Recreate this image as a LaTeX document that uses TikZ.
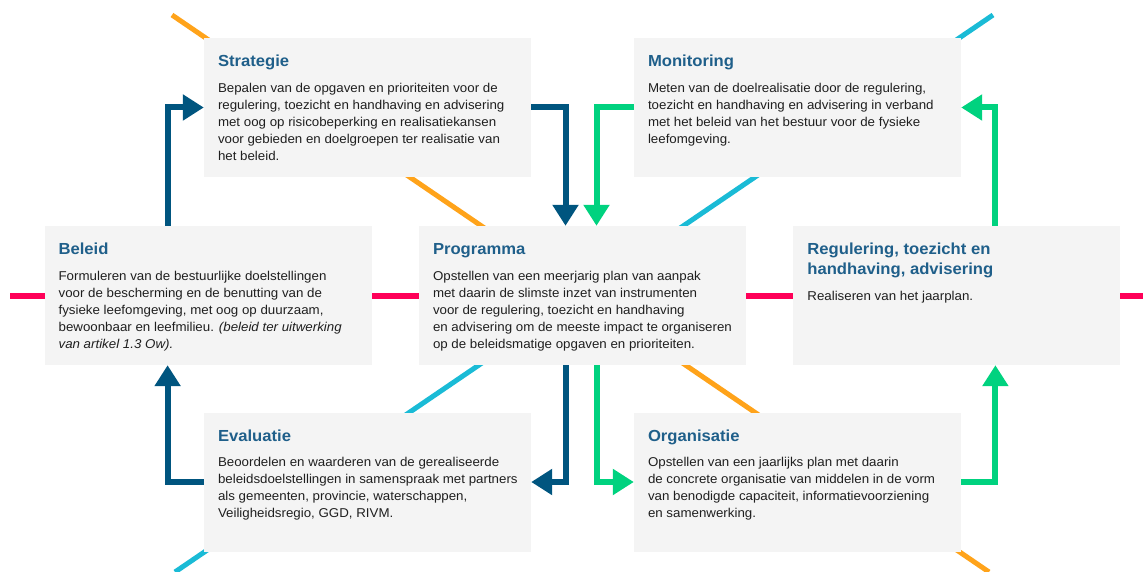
\documentclass[tikz,border=0pt]{standalone}
\usepackage{fontspec}
\setmainfont[FakeStretch=1.04]{Liberation Sans}
\usetikzlibrary{positioning,arrows.meta}
\definecolor{donkerblauw}{HTML}{00557F}
\definecolor{groen}{HTML}{00D27F}
\definecolor{roze}{HTML}{FF0058}
\definecolor{oranje}{HTML}{FFA31A}
\definecolor{cyaan}{HTML}{1ABBD6}
\definecolor{kopblauw}{HTML}{1F5F8A}
\definecolor{vakgrijs}{HTML}{F4F4F4}

\begin{document}
\begin{tikzpicture}[x=1pt,y=-1pt,
    vak/.style={fill=vakgrijs, minimum width=327pt, minimum height=139pt, inner sep=0pt},
    kop/.style={inner sep=0pt, align=left, text=kopblauw, font=\fontsize{16}{20}\selectfont\bfseries},
    tekst/.style={inner sep=0pt, align=left, text=black!88, font=\fontsize{12.8}{17}\selectfont},
    blauwpijl/.style={draw=donkerblauw, line width=6pt, -{Triangle[length=21pt,width=25pt]}},
    groenpijl/.style={draw=groen, line width=6pt, -{Triangle[length=21pt,width=25pt]}}]
    \useasboundingbox (0,0) rectangle (1143,572);

    % lines in the background
    \draw[roze, line width=6pt] (10,295.5) -- (1143,295.5);
    \draw[oranje, line width=5pt] (172,15) -- (989,572);
    \draw[cyaan, line width=5pt] (993,15) -- (175,572);

    % boxes
    \node[vak] (prog) at (582.5,295.5) {};
    \node[vak, left=47pt of prog] (beleid) {};
    \node[vak, right=47pt of prog] (regul) {};
    \node[vak] (strat) at (367.5,107.5) {};
    \node[vak] (monit) at (797.5,107.5) {};
    \node[vak] (evalu) at (367.5,482) {};
    \node[vak] (organ) at (797.5,482) {};

    % blue arrows
    \draw[blauwpijl] ([xshift=-40.5pt]beleid.north) |- (strat.west);
    \draw[blauwpijl] (strat.east) -| ([xshift=-17pt]prog.north);
    \draw[blauwpijl] ([xshift=-17pt]prog.south) |- (evalu.east);
    \draw[blauwpijl] (evalu.west) -| ([xshift=-40.5pt]beleid.south);

    % green arrows
    \draw[groenpijl] (monit.west) -| ([xshift=14pt]prog.north);
    \draw[groenpijl] ([xshift=14pt]prog.south) |- (organ.west);
    \draw[groenpijl] (organ.east) -| ([xshift=38.5pt]regul.south);
    \draw[groenpijl] ([xshift=38.5pt]regul.north) |- (monit.east);

    % texts
    \node[kop, below right=17pt and 14pt of strat.north west] (strat-kop) {Strategie};
    \node[tekst, below right=45pt and 14pt of strat.north west] (strat-tekst)
        {Bepalen van de opgaven en prioriteiten voor de\\
         regulering, toezicht en handhaving en advisering\\
         met oog op risicobeperking en realisatiekansen\\
         voor gebieden en doelgroepen ter realisatie van\\
         het beleid.};

    \node[kop, below right=17pt and 14pt of monit.north west] (monit-kop) {Monitoring};
    \node[tekst, below right=45pt and 14pt of monit.north west] (monit-tekst)
        {Meten van de doelrealisatie door de regulering,\\
         toezicht en handhaving en advisering in verband\\
         met het beleid van het bestuur voor de fysieke\\
         leefomgeving.};

    \node[kop, below right=17pt and 14pt of beleid.north west] (beleid-kop) {Beleid};
    \node[tekst, below right=45pt and 14pt of beleid.north west] (beleid-tekst)
        {Formuleren van de bestuurlijke doelstellingen\\
         voor de bescherming en de benutting van de\\
         fysieke leefomgeving, met oog op duurzaam,\\
         bewoonbaar en leefmilieu. \textit{(beleid ter uitwerking}\\
         \textit{van artikel 1.3 Ow).}};

    \node[kop, below right=17pt and 14pt of prog.north west] (prog-kop) {Programma};
    \node[tekst, below right=45pt and 14pt of prog.north west] (prog-tekst)
        {Opstellen van een meerjarig plan van aanpak\\
         met daarin de slimste inzet van instrumenten\\
         voor de regulering, toezicht en handhaving\\
         en advisering om de meeste impact te organiseren\\
         op de beleidsmatige opgaven en prioriteiten.};

    \node[kop, below right=17pt and 14pt of regul.north west] (regul-kop)
        {Regulering, toezicht en\\ handhaving, advisering};
    \node[tekst, below right=65pt and 14pt of regul.north west] (regul-tekst)
        {Realiseren van het jaarplan.};

    \node[kop, below right=17pt and 14pt of evalu.north west] (evalu-kop) {Evaluatie};
    \node[tekst, below right=45pt and 14pt of evalu.north west] (evalu-tekst)
        {Beoordelen en waarderen van de gerealiseerde\\
         beleidsdoelstellingen in samenspraak met partners\\
         als gemeenten, provincie, waterschappen,\\
         Veiligheidsregio, GGD, RIVM.};

    \node[kop, below right=17pt and 14pt of organ.north west] (organ-kop) {Organisatie};
    \node[tekst, below right=45pt and 14pt of organ.north west] (organ-tekst)
        {Opstellen van een jaarlijks plan met daarin\\
         de concrete organisatie van middelen in de vorm\\
         van benodigde capaciteit, informatievoorziening\\
         en samenwerking.};
\end{tikzpicture}
\end{document}
